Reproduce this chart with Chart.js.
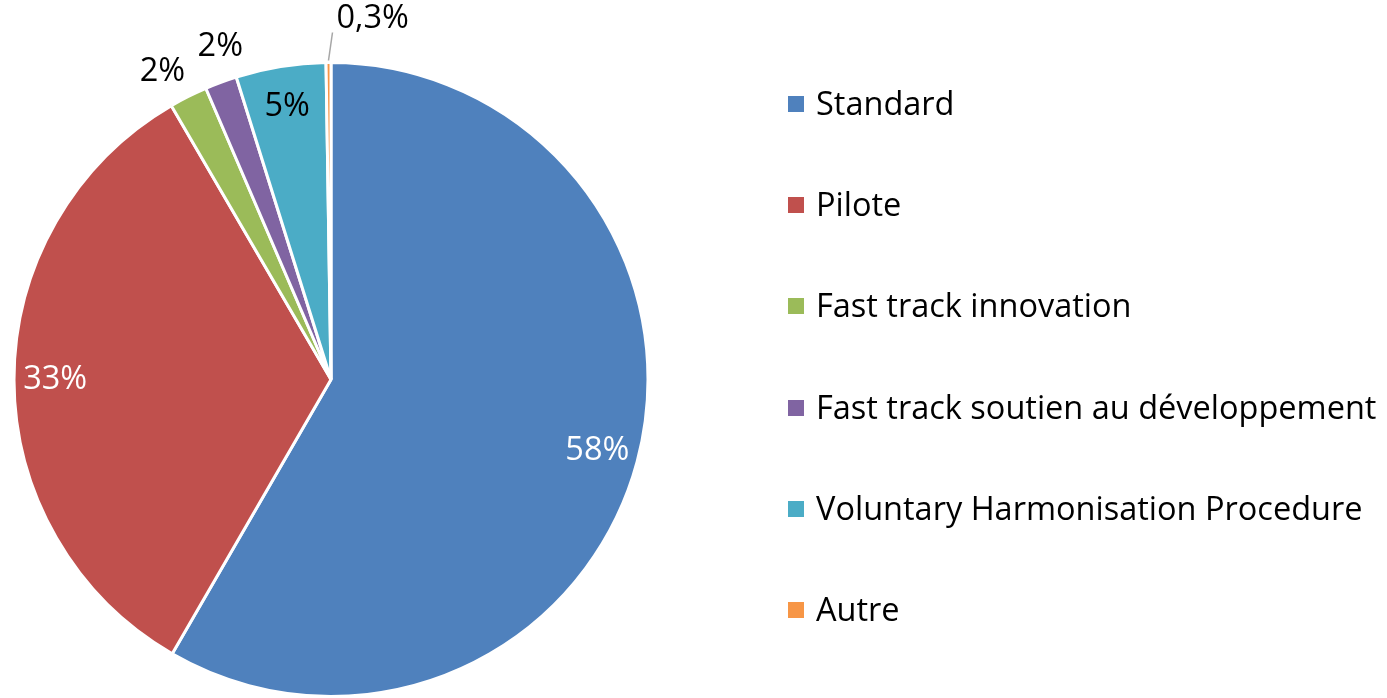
<!DOCTYPE html>
<html>
<head>
<meta charset="utf-8">
<script src="https://cdn.jsdelivr.net/npm/chart.js@4"></script>
<style>
  html, body { margin: 0; padding: 0; background: #fff; }
  #wrap { position: relative; width: 1387px; height: 698px; }
  #legend { position: absolute; left: 788px; top: 52px; font-family: "Open Sans", sans-serif; font-size: 32.5px; color: #000; }
  #legend div { height: 101.2px; display: flex; align-items: center; white-space: nowrap; }
  #legend span.box { width: 16px; height: 16px; margin-right: 12px; margin-top: 3px; flex: none; }
</style>
</head>
<body>
<div id="wrap">
  <canvas id="pieChart" width="1387" height="698"></canvas>
  <div id="legend"></div>
</div>
<script>
const categories = ["Standard", "Pilote", "Fast track innovation", "Fast track soutien au développement", "Voluntary Harmonisation Procedure", "Autre"];
const shares = [58.35, 33.25, 1.94, 1.63, 4.58, 0.25];
const shareLabels = ["58%", "33%", "2%", "2%", "5%", "0,3%"];
const colors = ["#4F81BD", "#C0504D", "#9BBB59", "#8064A2", "#4BACC6", "#F79646"];

// percentage labels: inside for big slices, outside for small ones, leader line for the tiniest
const sliceLabels = {
  id: "sliceLabels",
  afterDatasetsDraw(chart) {
    const ctx = chart.ctx;
    const arcs = chart.getDatasetMeta(0).data;
    ctx.save();
    ctx.font = "32.5px 'Open Sans', sans-serif";
    ctx.textBaseline = "middle";
    const outside = [];
    arcs.forEach((arc, i) => {
      const { x, y, startAngle, endAngle, outerRadius } = arc.getProps(["x", "y", "startAngle", "endAngle", "outerRadius"], true);
      const mid = (startAngle + endAngle) / 2;
      const v = shares[i];
      if (v >= 4) {
        const r = outerRadius * 0.87;
        ctx.fillStyle = i < 2 ? "#fff" : "#000";
        ctx.textAlign = "center";
        ctx.fillText(shareLabels[i], x + Math.cos(mid) * r, y + Math.sin(mid) * r);
      } else if (v >= 1) {
        outside.push({ i, x, y, mid, r: outerRadius + 34 });
      } else {
        const r = outerRadius + 2;
        const px = x + Math.cos(mid) * r, py = y + Math.sin(mid) * r;
        ctx.strokeStyle = "#A6A6A6";
        ctx.lineWidth = 1.5;
        ctx.beginPath();
        ctx.moveTo(px, py);
        ctx.lineTo(px + 4, py - 28);
        ctx.stroke();
        ctx.fillStyle = "#000";
        ctx.textAlign = "left";
        ctx.fillText(shareLabels[i], px + 8, py - 42);
      }
    });
    // spread neighbouring outside labels so they don't overlap
    const minGap = 0.18;
    for (let k = 1; k < outside.length; k++) {
      const a = outside[k - 1], b = outside[k];
      const gap = b.mid - a.mid;
      if (gap < minGap) {
        const push = (minGap - gap) / 2;
        a.mid -= push;
        b.mid += push;
      }
    }
    outside.forEach(o => {
      ctx.fillStyle = "#000";
      ctx.textAlign = "center";
      ctx.fillText(shareLabels[o.i], o.x + Math.cos(o.mid) * o.r, o.y + Math.sin(o.mid) * o.r);
    });
    ctx.restore();
  }
};

const htmlLegend = {
  id: "htmlLegend",
  afterUpdate(chart) {
    const box = document.getElementById("legend");
    const items = chart.options.plugins.legend.labels.generateLabels(chart);
    box.innerHTML = items.map(it =>
      `<div><span class="box" style="background:${it.fillStyle}"></span>${it.text}</div>`
    ).join("");
  }
};

new Chart(document.getElementById("pieChart"), {
  type: "pie",
  data: {
    labels: categories,
    datasets: [{ data: shares, backgroundColor: colors, borderColor: "#fff", borderWidth: 3 }]
  },
  options: {
    responsive: false,
    animation: false,
    layout: { padding: { top: 61, bottom: -1, left: 0, right: 725 } },
    plugins: {
      legend: { display: false },
      tooltip: { enabled: false }
    }
  },
  plugins: [sliceLabels, htmlLegend]
});
</script>
</body>
</html>
